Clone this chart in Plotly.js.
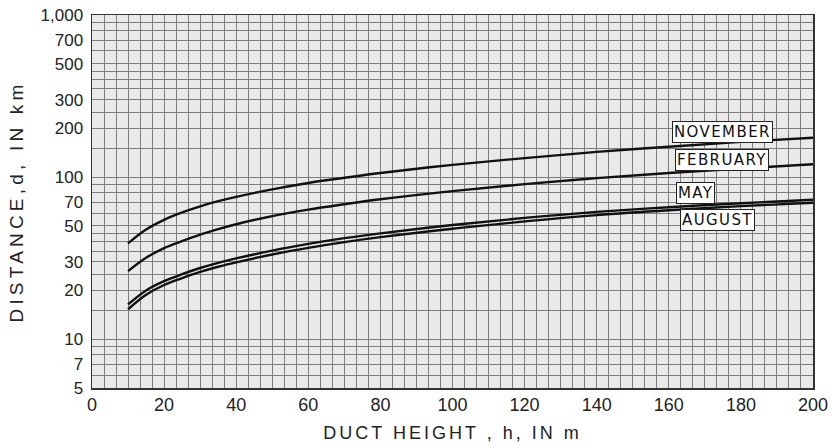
<!DOCTYPE html>
<html>
<head>
<meta charset="utf-8">
<script src="https://cdn.plot.ly/plotly-3.0.1.min.js"></script>
<style>
  html, body { margin: 0; padding: 0; background: #ffffff; }
  #chart { width: 837px; height: 448px; }
  .xtitle { letter-spacing: 3px; }
  .ytitle { letter-spacing: 4.2px; }
  .annotation-text { letter-spacing: 1.4px; }
</style>
</head>
<body>
<div id="chart"></div>
<script>
// Duct height h (m)
const ductHeight = [10, 15, 20, 25, 30, 35, 40, 50, 60, 70, 80, 100, 120, 140, 160, 180, 200];
// Distance d (km) per month
const november = [39, 47.5, 54.5, 60.5, 66, 71, 75.5, 84, 92, 99, 106, 119, 131, 143, 154, 165, 175];
const february = [26.3, 31.8, 36.5, 40.3, 44.2, 47.8, 51.2, 57.5, 63, 68, 73, 82, 90.5, 98.5, 106, 113, 120];
const may      = [16.4, 20, 22.8, 25.2, 27.5, 29.6, 31.5, 35.2, 38.7, 42, 45, 50.6, 56, 61, 65.2, 69, 72.5];
const august   = [15.3, 18.8, 21.6, 23.8, 26, 28, 29.8, 33.3, 36.6, 39.7, 42.6, 48, 53.3, 58.3, 62.5, 66.2, 69.5];

const seriesNames = ["NOVEMBER", "FEBRUARY", "MAY", "AUGUST"];
const seriesValues = [november, february, may, august];
// left-edge anchor positions (h, d) for the boxed month labels
const labelH = [161, 161.6, 162.1, 163];
const labelD = [190.5, 127, 79.6, 54.3];

const xTickVals = [0, 20, 40, 60, 80, 100, 120, 140, 160, 180, 200];
const yTickVals = [5, 7, 10, 20, 30, 50, 70, 100, 200, 300, 500, 700, 1000];
const yTickText = ["5", "7", "10", "20", "30", "50", "70", "100", "200", "300", "500", "700", "1,000"];
const yMinorVals = [6, 8, 9, 15, 25, 35, 40, 45, 60, 80, 90, 150, 250, 350, 400, 450, 600, 800, 900];

const traces = seriesNames.map((name, i) => ({
  x: ductHeight,
  y: seriesValues[i],
  name: name,
  mode: "lines",
  line: { color: "#111111", width: 2.4, shape: "spline", smoothing: 1 },
  hoverinfo: "skip",
  showlegend: false
}));

const annotations = seriesNames.map((name, i) => ({
  x: labelH[i],
  y: Math.log10(labelD[i]),
  xref: "x", yref: "y",
  xanchor: "left",
  text: name,
  showarrow: false,
  font: { family: "DejaVu Sans, sans-serif", size: 15, color: "#111111" },
  bgcolor: "#ffffff",
  bordercolor: "#222222",
  borderwidth: 1,
  borderpad: 1
}));

const gridCol = "#7d7d7d";
const layout = {
  width: 837, height: 448,
  margin: { l: 92, r: 24, t: 15, b: 60 },
  paper_bgcolor: "#ffffff",
  plot_bgcolor: "#e9e9e9",
  showlegend: false,
  font: { family: "Liberation Sans, Arial, sans-serif", color: "#222222" },
  xaxis: {
    range: [0, 200],
    tickmode: "array",
    tickvals: xTickVals,
    ticks: "",
    tickfont: { family: "Liberation Sans, Arial, sans-serif", size: 18, color: "#222222" },
    showgrid: true, gridcolor: gridCol, gridwidth: 1,
    minor: { dtick: 10 / 3, tick0: 0, showgrid: true, gridcolor: gridCol, gridwidth: 1 },
    showline: true, linecolor: "#333333", linewidth: 1.5, mirror: true,
    zeroline: false,
    title: { text: "DUCT HEIGHT , h, IN m", standoff: 12,
             font: { family: "Liberation Sans, Arial, sans-serif", size: 18, color: "#222222" } }
  },
  yaxis: {
    type: "log",
    range: [Math.log10(5), 3],
    tickmode: "array",
    tickvals: yTickVals,
    ticktext: yTickText,
    ticks: "",
    ticklabelstandoff: 4,
    tickfont: { family: "Liberation Sans, Arial, sans-serif", size: 17, color: "#222222" },
    showgrid: true, gridcolor: gridCol, gridwidth: 1,
    minor: { tickmode: "array", tickvals: yMinorVals, showgrid: true, gridcolor: gridCol, gridwidth: 1 },
    showline: true, linecolor: "#333333", linewidth: 1.5, mirror: true,
    zeroline: false,
    title: { text: "DISTANCE,d, IN km", standoff: 12,
             font: { family: "Liberation Sans, Arial, sans-serif", size: 19, color: "#222222" } }
  },
  annotations: annotations
};

Plotly.newPlot("chart", traces, layout, { displayModeBar: false, staticPlot: true });
</script>
</body>
</html>
